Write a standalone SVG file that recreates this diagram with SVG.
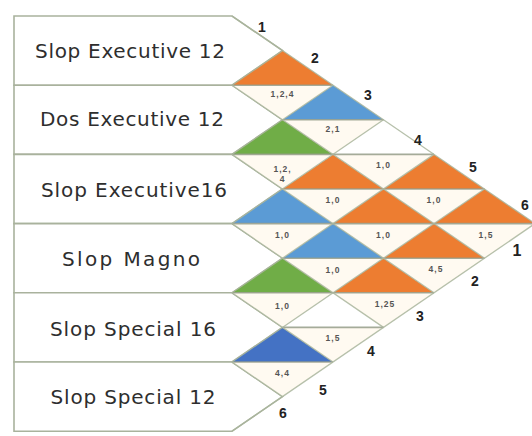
<svg xmlns="http://www.w3.org/2000/svg" width="532" height="436" viewBox="0 0 532 436">
  <style>
    .box { fill: #ffffff; stroke: #a9b29d; stroke-width: 1.6; }
    .lat { stroke: #a9b59c; stroke-width: 1.3; fill: none; stroke-opacity: 0.85; }
    .hz { stroke: #959c88; stroke-width: 1.6; fill: none; stroke-opacity: 0.85; }
    .org { fill: #ED7D31; }
    .blu { fill: #5B9BD5; }
    .grn { fill: #70AD47; }
    .dbl { fill: #4472C4; }
    .wht { fill: #ffffff; }
    .cell { fill: #fffaf1; }
    .lbl { font-family: "DejaVu Sans", sans-serif; font-size: 20px; fill: #2e2e2e; text-anchor: middle; }
    .num { font-family: "Liberation Sans", sans-serif; font-size: 14px; font-weight: bold; fill: #222222; text-anchor: middle; }
    .val { font-family: "Liberation Sans", sans-serif; font-size: 8.5px; font-weight: bold; fill: #555555; text-anchor: middle; letter-spacing: 1px; }
  </style>

  <rect x="0" y="0" width="532" height="436" fill="#ffffff"/>

  <!-- row label boxes with pointed right ends -->
  <g id="row-1">
    <polygon class="box" points="14,16 232,16 282.5,50.6 232,85.2 14,85.2"/>
    <text class="lbl" x="130" y="58" textLength="190" lengthAdjust="spacing">Slop Executive 12</text>
  </g>
  <g id="row-2">
    <polygon class="box" points="14,85.2 232,85.2 282.5,119.8 232,154.4 14,154.4"/>
    <text class="lbl" x="132" y="126" textLength="184" lengthAdjust="spacing">Dos Executive 12</text>
  </g>
  <g id="row-3">
    <polygon class="box" points="14,154.4 232,154.4 282.5,189 232,223.6 14,223.6"/>
    <text class="lbl" x="134" y="197" textLength="186" lengthAdjust="spacing">Slop Executive16</text>
  </g>
  <g id="row-4">
    <polygon class="box" points="14,223.6 232,223.6 282.5,258.2 232,292.8 14,292.8"/>
    <text class="lbl" x="131" y="266" textLength="138" lengthAdjust="spacing">Slop Magno</text>
  </g>
  <g id="row-5">
    <polygon class="box" points="14,292.8 232,292.8 282.5,327.4 232,362 14,362"/>
    <text class="lbl" x="133" y="336" textLength="166" lengthAdjust="spacing">Slop Special 16</text>
  </g>
  <g id="row-6">
    <polygon class="box" points="14,362 232,362 282.5,396.6 232,431.2 14,431.2"/>
    <text class="lbl" x="133" y="404" textLength="165" lengthAdjust="spacing">Slop Special 12</text>
  </g>

  <!-- upward triangles (coloured) -->
  <g id="up-cells">
    <polygon id="u-0-2" class="org" points="232,85.2 333,85.2 282.5,50.6"/>
    <polygon id="u-1-3" class="blu" points="282.5,119.8 383.5,119.8 333,85.2"/>
    <polygon id="u-0-4" class="grn" points="232,154.4 333,154.4 282.5,119.8"/>
    <polygon id="u-2-4" class="wht" points="333,154.4 434,154.4 383.5,119.8"/>
    <polygon id="u-1-5" class="org" points="282.5,189 383.5,189 333,154.4"/>
    <polygon id="u-3-5" class="org" points="383.5,189 484.5,189 434,154.4"/>
    <polygon id="u-0-6" class="blu" points="232,223.6 333,223.6 282.5,189"/>
    <polygon id="u-2-6" class="org" points="333,223.6 434,223.6 383.5,189"/>
    <polygon id="u-4-6" class="org" points="434,223.6 535,223.6 484.5,189"/>
    <polygon id="u-1-7" class="blu" points="282.5,258.2 383.5,258.2 333,223.6"/>
    <polygon id="u-3-7" class="org" points="383.5,258.2 484.5,258.2 434,223.6"/>
    <polygon id="u-0-8" class="grn" points="232,292.8 333,292.8 282.5,258.2"/>
    <polygon id="u-2-8" class="org" points="333,292.8 434,292.8 383.5,258.2"/>
    <polygon id="u-1-9" class="wht" points="282.5,327.4 383.5,327.4 333,292.8"/>
    <polygon id="u-0-10" class="dbl" points="232,362 333,362 282.5,327.4"/>
  </g>

  <!-- downward triangles (value cells) -->
  <g id="d-0-2"><polygon class="cell" points="232,85.2 333,85.2 282.5,119.8"/></g>
  <g id="d-1-3"><polygon class="cell" points="282.5,119.8 383.5,119.8 333,154.4"/></g>
  <g id="d-0-4"><polygon class="cell" points="232,154.4 333,154.4 282.5,189"/></g>
  <g id="d-2-4"><polygon class="cell" points="333,154.4 434,154.4 383.5,189"/></g>
  <g id="d-1-5"><polygon class="cell" points="282.5,189 383.5,189 333,223.6"/></g>
  <g id="d-3-5"><polygon class="cell" points="383.5,189 484.5,189 434,223.6"/></g>
  <g id="d-0-6"><polygon class="cell" points="232,223.6 333,223.6 282.5,258.2"/></g>
  <g id="d-2-6"><polygon class="cell" points="333,223.6 434,223.6 383.5,258.2"/></g>
  <g id="d-4-6"><polygon class="cell" points="434,223.6 535,223.6 484.5,258.2"/></g>
  <g id="d-1-7"><polygon class="cell" points="282.5,258.2 383.5,258.2 333,292.8"/></g>
  <g id="d-3-7"><polygon class="cell" points="383.5,258.2 484.5,258.2 434,292.8"/></g>
  <g id="d-0-8"><polygon class="cell" points="232,292.8 333,292.8 282.5,327.4"/></g>
  <g id="d-2-8"><polygon class="cell" points="333,292.8 434,292.8 383.5,327.4"/></g>
  <g id="d-1-9"><polygon class="cell" points="282.5,327.4 383.5,327.4 333,362"/></g>
  <g id="d-0-10"><polygon class="cell" points="232,362 333,362 282.5,396.6"/></g>

  <!-- lattice lines -->
  <g id="connectors">
    <line class="hz" x1="232" y1="85.2" x2="333" y2="85.2"/>
    <line class="hz" x1="282.5" y1="119.8" x2="383.5" y2="119.8"/>
    <line class="hz" x1="232" y1="154.4" x2="434" y2="154.4"/>
    <line class="hz" x1="282.5" y1="189" x2="484.5" y2="189"/>
    <line class="hz" x1="232" y1="223.6" x2="535" y2="223.6"/>
    <line class="hz" x1="282.5" y1="258.2" x2="484.5" y2="258.2"/>
    <line class="hz" x1="232" y1="292.8" x2="434" y2="292.8"/>
    <line class="hz" x1="282.5" y1="327.4" x2="383.5" y2="327.4"/>
    <line class="hz" x1="232" y1="362" x2="333" y2="362"/>

    <line class="lat" x1="232" y1="16" x2="535" y2="223.6"/>
    <line class="lat" x1="232" y1="85.2" x2="484.5" y2="258.2"/>
    <line class="lat" x1="232" y1="154.4" x2="434" y2="292.8"/>
    <line class="lat" x1="232" y1="223.6" x2="383.5" y2="327.4"/>
    <line class="lat" x1="232" y1="292.8" x2="333" y2="362"/>
    <line class="lat" x1="232" y1="362" x2="282.5" y2="396.6"/>

    <line class="lat" x1="232" y1="85.2" x2="282.5" y2="50.6"/>
    <line class="lat" x1="232" y1="154.4" x2="333" y2="85.2"/>
    <line class="lat" x1="232" y1="223.6" x2="383.5" y2="119.8"/>
    <line class="lat" x1="232" y1="292.8" x2="434" y2="154.4"/>
    <line class="lat" x1="232" y1="362" x2="484.5" y2="189"/>
    <line class="lat" x1="232" y1="431.2" x2="535" y2="223.6"/>
  </g>

  <!-- cell values -->
  <g id="values">
    <text class="val" x="282.5" y="97">1,2,4</text>
    <text class="val" x="333" y="132">2,1</text>
    <text class="val" x="282.5" y="172">1,2,</text>
    <text class="val" x="282.5" y="182">4</text>
    <text class="val" x="383.5" y="168">1,0</text>
    <text class="val" x="333" y="203">1,0</text>
    <text class="val" x="434" y="203">1,0</text>
    <text class="val" x="282.5" y="238">1,0</text>
    <text class="val" x="383.5" y="238">1,0</text>
    <text class="val" x="486" y="238">1,5</text>
    <text class="val" x="333" y="273">1,0</text>
    <text class="val" x="436" y="272">4,5</text>
    <text class="val" x="282.5" y="309">1,0</text>
    <text class="val" x="385" y="307">1,25</text>
    <text class="val" x="333" y="341">1,5</text>
    <text class="val" x="282.5" y="376">4,4</text>
  </g>

  <!-- index numbers along the two outer edges -->
  <g id="index-top">
    <text class="num" x="262" y="32">1</text>
    <text class="num" x="315" y="63">2</text>
    <text class="num" x="368" y="100">3</text>
    <text class="num" x="418" y="145">4</text>
    <text class="num" x="473" y="172">5</text>
    <text class="num" x="525" y="210">6</text>
  </g>
  <g id="index-bottom">
    <text class="num" x="517" y="256" style="font-size:16px">1</text>
    <text class="num" x="475" y="286">2</text>
    <text class="num" x="420" y="321">3</text>
    <text class="num" x="371" y="356">4</text>
    <text class="num" x="323" y="395">5</text>
    <text class="num" x="283" y="418">6</text>
  </g>
</svg>
